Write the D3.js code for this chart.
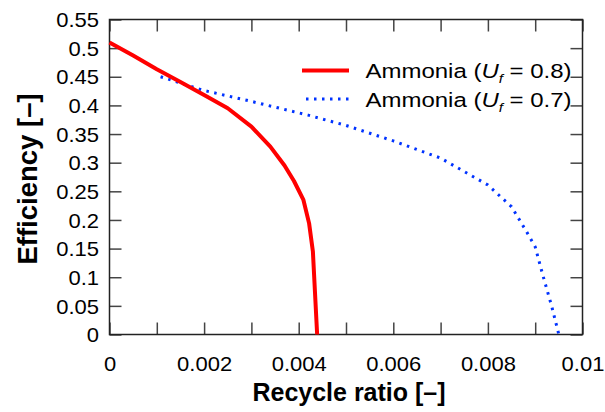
<!DOCTYPE html>
<html><head><meta charset="utf-8">
<script src="https://cdn.jsdelivr.net/npm/d3@7"></script>
<style>body{margin:0;background:#fff}svg{display:block}text{font-family:"Liberation Sans",Arial,sans-serif}</style>
</head><body><svg id="c" width="605" height="412"></svg>
<script>
const xTickValues = [0,0.001,0.002,0.003,0.004,0.005,0.006,0.007,0.008,0.009,0.01];
const xTickLabels = ["0","","0.002","","0.004","","0.006","","0.008","","0.01"];
const yTickValues = [0,0.05,0.1,0.15,0.2,0.25,0.3,0.35,0.4,0.45,0.5,0.55];
const yTickLabels = ["0","0.05","0.1","0.15","0.2","0.25","0.3","0.35","0.4","0.45","0.5","0.55"];
const seriesNames = ["0.8","0.7"];
const redX = [0,0.0005,0.001,0.0015,0.002,0.0025,0.003,0.0034,0.0037,0.0039,0.0041,0.00422,0.0043,0.00439];
const redY = [0.51,0.487,0.463,0.441,0.418,0.395,0.363,0.328,0.295,0.268,0.235,0.194,0.145,0];
const blueX = [0.00108,0.002,0.0029,0.0042,0.005,0.006,0.007,0.008,0.0085,0.0088,0.009,0.00917,0.00935,0.0095];
const blueY = [0.450,0.426,0.409,0.383,0.365,0.338,0.308,0.261,0.223,0.182,0.153,0.101,0.049,0];

const svg = d3.select("#c");
const L=109.5, R=582.5, T=19.5, B=334.5;
const x = d3.scaleLinear().domain([0,0.01]).range([L,R]);
const y = d3.scaleLinear().domain([0,0.55]).range([B,T]);
const SX = 1.1, TF = 20, LSX = 1.17;

const tk = 12;
const axB = d3.axisBottom(x).tickValues(xTickValues).tickSize(-tk).tickFormat((d,i)=>xTickLabels[i]);
const axT = d3.axisTop(x).tickValues(xTickValues).tickSize(-tk).tickFormat("");
const axL = d3.axisLeft(y).tickValues(yTickValues).tickSize(-tk).tickFormat((d,i)=>yTickLabels[i]);
const axR = d3.axisRight(y).tickValues(yTickValues).tickSize(-tk).tickFormat("");
function style(g){g.select(".domain").remove();g.selectAll(".tick line").attr("stroke","#444").attr("stroke-width",1.5);g.selectAll("text").attr("font-size",TF).attr("fill","#000");}
svg.append("g").attr("transform",`translate(0,${B})`).call(axB).call(style)
  .selectAll(".tick text").attr("x",0).attr("y",0).attr("dy",null).attr("transform",`translate(0,36) scale(${SX},1)`);
svg.append("g").attr("transform",`translate(0,${T})`).call(axT).call(style);
svg.append("g").attr("transform",`translate(${L},0)`).call(axL).call(style)
  .selectAll(".tick text").attr("x",0).attr("dy",null).attr("y",0).attr("transform",`translate(-10.5,7.2) scale(${SX},1)`);
svg.append("g").attr("transform",`translate(${R},0)`).call(axR).call(style);

svg.append("rect").attr("x",L).attr("y",T).attr("width",R-L).attr("height",B-T).attr("fill","none").attr("stroke","#222").attr("stroke-width",1.5);

const line = d3.line().x(d=>x(d[0])).y(d=>y(d[1]));
const redData = redX.map((v,i)=>[v,redY[i]]);
const blueData = blueX.map((v,i)=>[v,blueY[i]]);
svg.append("path").datum(blueData).attr("d",line).attr("fill","none").attr("stroke","#0033ff").attr("stroke-width",3).attr("stroke-dasharray","2.5,5.5");
svg.append("path").datum(redData).attr("d",line).attr("fill","none").attr("stroke","#ff0000").attr("stroke-width",4).attr("stroke-linejoin","round");

// legend
const leg = [{c:"#ff0000",w:4,d:null,ly:70.5,name:seriesNames[0]},{c:"#0033ff",w:3,d:"2.5,5.5",ly:99,name:seriesNames[1]}];
leg.forEach(o=>{
  svg.append("line").attr("x1",o.d?306:302).attr("x2",349).attr("y1",o.ly).attr("y2",o.ly).attr("stroke",o.c).attr("stroke-width",o.w).attr("stroke-dasharray",o.d);
  const t = svg.append("text").attr("transform",`translate(365.5,${o.ly+7.5}) scale(${LSX},1)`).attr("font-size",20.5).attr("fill","#000");
  t.append("tspan").text("Ammonia (");
  t.append("tspan").attr("font-style","italic").text("U");
  t.append("tspan").attr("font-style","italic").attr("font-size",13).attr("dy",5).text("f");
  t.append("tspan").attr("dy",-5).text(" = "+o.name+")");
});

svg.append("text").attr("x",349).attr("y",401).attr("text-anchor","middle").attr("font-size",25).attr("font-weight","bold").text("Recycle ratio [–]");
svg.append("text").attr("transform","translate(37,179) rotate(-90)").attr("text-anchor","middle").attr("font-size",27.5).attr("font-weight","bold").text("Efficiency [–]");
</script></body></html>
